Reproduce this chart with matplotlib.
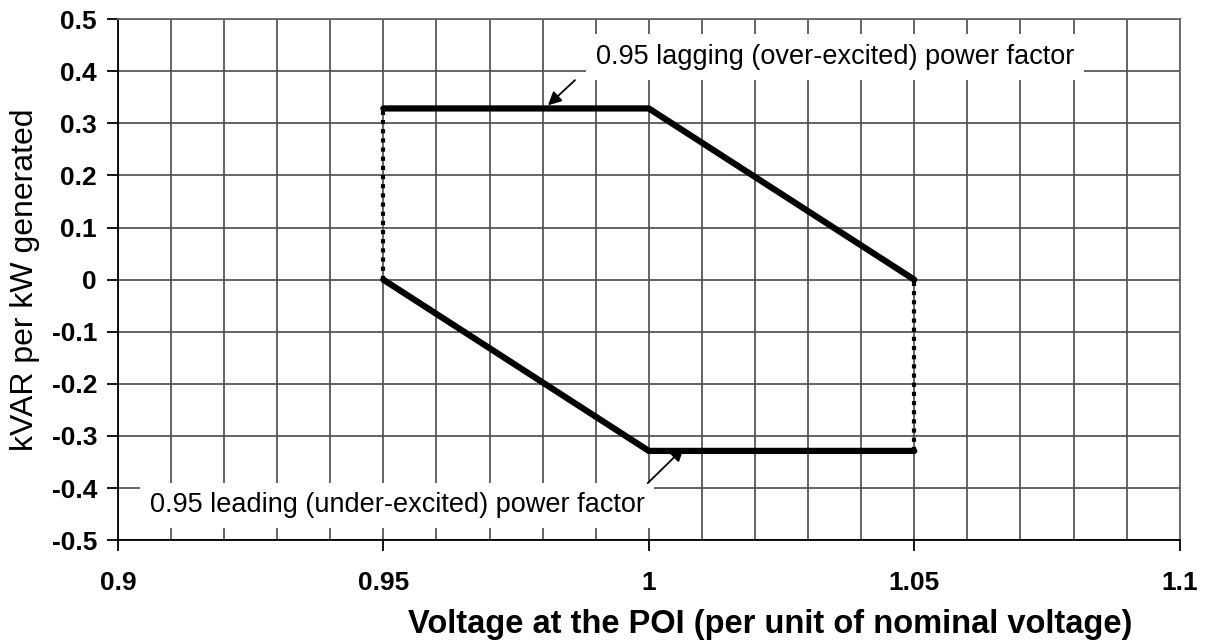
import numpy as np
import matplotlib.pyplot as plt
from matplotlib.ticker import MultipleLocator

plt.rcParams['font.family'] = ['Liberation Sans', 'DejaVu Sans']

# limites de la courbe de capabilité
pf = 0.95
q_max = np.tan(np.arccos(pf))  # ~0.329

v_upper = [0.95, 1.0, 1.05]
q_upper = [q_max, q_max, 0.0]
v_lower = [0.95, 1.0, 1.05]
q_lower = [0.0, -q_max, -q_max]
v_left = [0.95, 0.95]
q_left = [0.0, q_max]
v_right = [1.05, 1.05]
q_right = [-q_max, 0.0]

x_ticks = [0.9, 0.95, 1.0, 1.05, 1.1]
x_labels = ['0.9', '0.95', '1', '1.05', '1.1']
y_ticks = [-0.5, -0.4, -0.3, -0.2, -0.1, 0.0, 0.1, 0.2, 0.3, 0.4, 0.5]
y_labels = ['-0.5', '-0.4', '-0.3', '-0.2', '-0.1', '0', '0.1', '0.2', '0.3', '0.4', '0.5']

fig = plt.figure(figsize=(12.15, 6.4), dpi=100)
ax = fig.add_axes([0.097, 0.156, 0.874, 0.814])

ax.set_xlim(0.9, 1.1)
ax.set_ylim(-0.5, 0.5)
ax.set_xticks(x_ticks)
ax.set_xticklabels(x_labels, fontweight='bold')
ax.set_yticks(y_ticks)
ax.set_yticklabels(y_labels, fontweight='bold')
ax.xaxis.set_minor_locator(MultipleLocator(0.01))
ax.grid(True, which='major', color='#4a4a4a', lw=1.2)
ax.grid(True, which='minor', axis='x', color='#4a4a4a', lw=1.2)
ax.tick_params(axis='both', which='major', direction='out', length=8, width=1.3,
               labelsize=19)
ax.tick_params(axis='x', pad=14)
ax.tick_params(axis='y', pad=7)
ax.tick_params(axis='x', which='minor', length=0)
for s in ax.spines.values():
    s.set_color('#666666')
    s.set_linewidth(1.3)
ax.spines['left'].set_color('black')
ax.spines['bottom'].set_color('black')

ax.plot(v_upper, q_upper, color='black', lw=4.5, solid_capstyle='round')
ax.plot(v_lower, q_lower, color='black', lw=4.5, solid_capstyle='round')
ax.plot(v_left, q_left, color='black', lw=3, linestyle=(0, (1, 1.2)))
ax.plot(v_right, q_right, color='black', lw=3, linestyle=(0, (1, 1.2)))

ax.set_xlabel('Voltage at the POI (per unit of nominal voltage)', fontsize=23.5,
              fontweight='bold')
ax.xaxis.set_label_coords(0.614, -0.132)
ax.set_ylabel('kVAR per kW generated', fontsize=23)
ax.yaxis.set_label_coords(-0.073, 0.5)

box = dict(facecolor='white', edgecolor='none', pad=7)
arrow = dict(arrowstyle='-|>', color='black', lw=1.3, mutation_scale=20,
             shrinkA=0, shrinkB=0)

ax.text(0.990, 0.427, '0.95 lagging (over-excited) power factor', fontsize=19.5,
        ha='left', va='center', bbox=box, zorder=5)
ax.annotate('', xy=(0.981, q_max + 0.006), xytext=(0.9861, 0.383),
            arrowprops=arrow, zorder=5)

ax.text(0.906, -0.433, '0.95 leading (under-excited) power factor', fontsize=19.5,
        ha='left', va='center', bbox=box, zorder=5)
ax.annotate('', xy=(1.0066, -q_max + 0.006), xytext=(0.9998, -0.3906),
            arrowprops=arrow, zorder=5)

fig.savefig('out.png', dpi=100)
